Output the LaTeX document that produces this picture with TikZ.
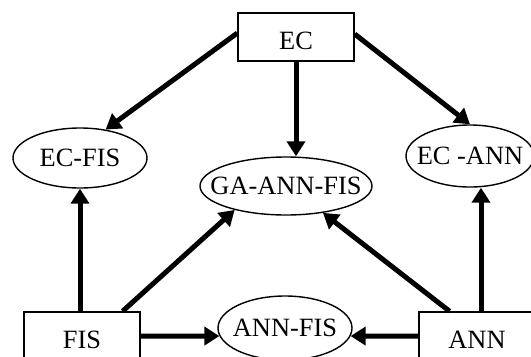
\documentclass[tikz,border=0pt]{standalone}
\usepackage{fontspec}
\setmainfont{Liberation Serif}
\usetikzlibrary{arrows.meta,calc,shapes.geometric}
\begin{document}
\begin{tikzpicture}[x=1bp,y=-1bp,
  every node/.style={font=\fontsize{26.5}{30}\selectfont, inner sep=0pt},
  % labels in the boxes sit a little below the middle
  box/.style={draw, line width=1.4bp, rectangle, minimum width=116bp, minimum height=48bp,
              text height=25bp, text depth=0pt},
  % the outline keeps its given size; the label may reach close to its rim
  oval/.style={draw, line width=1.4bp, ellipse, inner xsep=-25bp, inner ysep=-10bp},
  arr/.style={line width=5bp, -{Triangle[length=15bp,width=18bp]}}]
  \useasboundingbox (0,0) rectangle (531,356);
  \clip (0,0) rectangle (531,356);

  % systems
  \node[box] (EC)  at (296,37)  {EC};
  \node[box] (FIS) at (82,336)  {FIS};
  \node[box] (ANN) at (477,336) {ANN};

  % hybrids
  \node[oval, minimum width=134bp, minimum height=60bp] (ECFIS)  at (80,158)  {EC-FIS};
  \node[oval, minimum width=128bp, minimum height=62bp] (ECANN)  at (470,156) {EC -ANN};
  \node[oval, minimum width=172bp, minimum height=58bp] (GA)     at (286,186) {GA-ANN-FIS};
  \node[oval, minimum width=134bp, minimum height=64bp] (ANNFIS) at (285,328) {ANN-FIS};

  % from EC
  \draw[arr] ($(EC.north west)!0.42!(EC.south west)$) -- (ECFIS.48);
  \draw[arr] ($(EC.north east)!0.44!(EC.south east)$) -- (ECANN.north);
  \draw[arr] (EC.south) -- (EC.south |- GA.north);

  % from FIS
  \draw[arr] (FIS.north -| ECFIS) -- (ECFIS.south);
  \draw[arr] ($(FIS.north west)!0.845!(FIS.north east)$) -- (GA.205);
  \draw[arr] (FIS.east) -- (ANNFIS.187);

  % from ANN
  \coordinate (annup) at ($(ANN.north)+(4,0)$);
  \draw[arr] (annup) -- (annup |- ECANN.south);
  \draw[arr] ($(ANN.north west)!0.267!(ANN.north east)$) -- (GA.324);
  \draw[arr] (ANN.west) -- (ANNFIS.353);
\end{tikzpicture}
\end{document}
